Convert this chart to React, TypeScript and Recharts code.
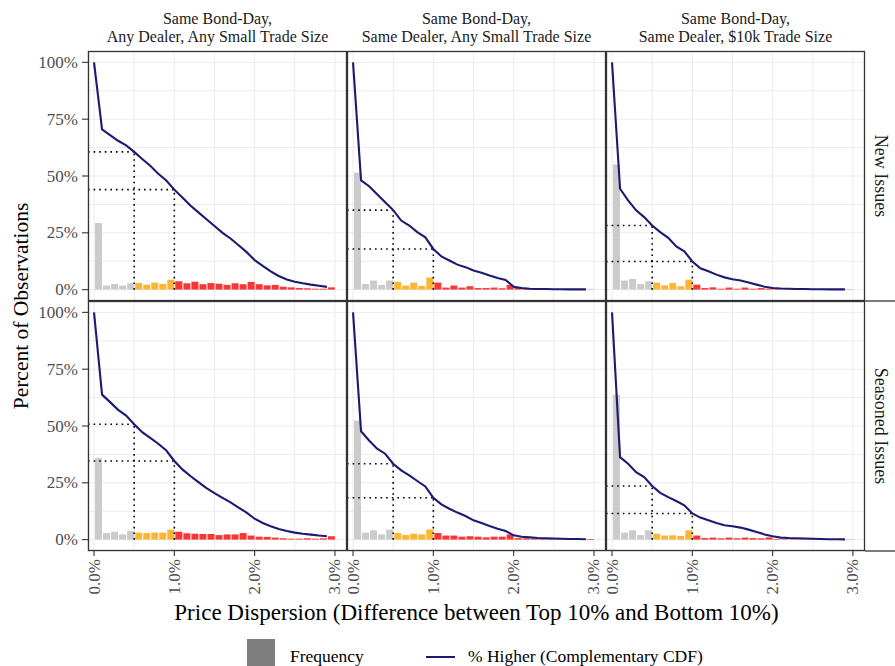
import React from 'react';
import { ComposedChart, Bar, Line, XAxis, YAxis, CartesianGrid, ReferenceLine, Cell } from 'recharts';

// Histogram bins (0.1% wide) and the points where the complementary CDF is evaluated
const binCenters = [0.05, 0.15, 0.25, 0.35, 0.45, 0.55, 0.65, 0.75, 0.85, 0.95, 1.05, 1.15, 1.25, 1.35, 1.45, 1.55, 1.65, 1.75, 1.85, 1.95, 2.05, 2.15, 2.25, 2.35, 2.45, 2.55, 2.65, 2.75, 2.85, 2.95];
const cdfPoints = [0, 0.1, 0.2, 0.3, 0.4, 0.5, 0.6, 0.7, 0.8, 0.9, 1.0, 1.1, 1.2, 1.3, 1.4, 1.5, 1.6, 1.7, 1.8, 1.9, 2.0, 2.1, 2.2, 2.3, 2.4, 2.5, 2.6, 2.7, 2.8, 2.9];

const xTicks = [0, 0.5, 1, 1.5, 2, 2.5, 3];
const xTickLabels = ['0.0%', '', '1.0%', '', '2.0%', '', '3.0%'];
const yTicks = [0, 12.5, 25, 37.5, 50, 62.5, 75, 87.5, 100];
const yTickLabels = ['0%', '', '25%', '', '50%', '', '75%', '', '100%'];

const columnTitles = [
  ['Same Bond-Day,', 'Any Dealer, Any Small Trade Size'],
  ['Same Bond-Day,', 'Same Dealer, Any Small Trade Size'],
  ['Same Bond-Day,', 'Same Dealer, $10k Trade Size'],
];
const rowTitles = ['New Issues', 'Seasoned Issues'];

// New issues
const freqNewAny = [29.3, 1.8, 2.5, 1.8, 2.8, 2.9, 2.2, 3.1, 2.5, 4.4, 3.7, 2.8, 3.5, 2.4, 2.9, 2.6, 2.1, 2.8, 2.4, 3.4, 2.4, 1.9, 2.1, 1.3, 1.0, 0.7, 0.6, 0.4, 0.4, 1.0];
const cdfNewAny = [100, 70.5, 68, 65.5, 63.5, 60.6, 57.5, 54.5, 51, 48, 44, 40.5, 37, 34, 31, 28, 25, 22.5, 19.5, 16.5, 13, 10.5, 8, 6, 4.5, 3.5, 2.8, 2.2, 1.7, 1.2];
const freqNewDealer = [51.5, 2.5, 4.0, 2.1, 4.0, 3.4, 1.8, 3.1, 1.6, 5.3, 3.1, 0.9, 1.8, 0.9, 1.5, 0.7, 0.7, 0.9, 0.6, 2.1, 0.9, 0.4, 0.3, 0.2, 0.2, 0.1, 0.1, 0.1, 0.1, 0.1];
const cdfNewDealer = [100, 48.1, 45.5, 42, 38.5, 35, 30.4, 28.2, 25.3, 23, 17.9, 14.6, 12.8, 11, 9.9, 8.4, 7.4, 6.2, 5.1, 4.3, 1.3, 0.7, 0.4, 0.3, 0.3, 0.2, 0.2, 0.1, 0.1, 0.1];
const freqNew10k = [55.1, 4.0, 4.7, 2.5, 3.7, 3.1, 1.9, 2.9, 1.5, 4.4, 2.2, 0.7, 1.0, 0.4, 0.9, 0.4, 0.9, 0.4, 0.7, 0.4, 0.2, 0.1, 0.1, 0.1, 0.1, 0.1, 0.1, 0.1, 0.1, 0.1];
const cdfNew10k = [100, 44.4, 39.3, 34.9, 31.9, 28.2, 25.3, 22.8, 19, 16.9, 12.4, 9.4, 8.1, 6.6, 5.4, 4.6, 4.0, 3.1, 2.2, 1.3, 0.7, 0.5, 0.4, 0.3, 0.3, 0.2, 0.2, 0.1, 0.1, 0.1];

// Seasoned issues
const freqSeasAny = [36.0, 2.9, 3.5, 2.3, 3.8, 3.1, 2.9, 3.1, 3.1, 4.4, 3.5, 2.8, 2.6, 2.5, 2.5, 2.0, 2.3, 2.3, 2.9, 1.8, 1.3, 1.2, 0.9, 0.6, 0.4, 0.4, 0.6, 0.4, 0.6, 1.5];
const cdfSeasAny = [100, 63.8, 60.5, 57.1, 54.6, 50.8, 47.3, 44.8, 42.2, 39.2, 34.6, 30.9, 28, 25.3, 22.7, 20.5, 18.4, 16.4, 14.1, 11.9, 9.2, 7.3, 5.9, 4.7, 3.8, 3.1, 2.6, 2.2, 1.8, 1.5];
const freqSeasDealer = [52.4, 3.1, 4.1, 2.3, 4.4, 2.9, 2.0, 2.6, 2.3, 4.5, 2.9, 1.8, 1.8, 1.3, 1.5, 1.3, 1.0, 1.3, 1.3, 2.3, 0.7, 0.6, 0.4, 0.3, 0.3, 0.2, 0.2, 0.2, 0.2, 0.3];
const cdfSeasDealer = [100, 47.7, 43.6, 40, 37.8, 33.4, 30.5, 28.3, 25.8, 23.4, 18.4, 15.5, 13.6, 11.9, 10.4, 8.5, 7.3, 6.0, 4.8, 3.8, 1.9, 1.3, 1.0, 0.7, 0.6, 0.5, 0.4, 0.3, 0.3, 0.2];
const freqSeas10k = [63.8, 3.1, 4.1, 2.0, 4.1, 2.6, 1.8, 1.9, 1.6, 4.1, 1.8, 0.7, 0.9, 0.6, 0.9, 0.6, 0.9, 0.7, 0.6, 1.0, 0.3, 0.2, 0.2, 0.2, 0.2, 0.2, 0.1, 0.1, 0.1, 0.1];
const cdfSeas10k = [100, 36.3, 33.4, 29.7, 27.5, 23.6, 20.6, 18.7, 17.0, 15.1, 11.5, 9.7, 8.5, 7.3, 6.3, 5.9, 5.3, 4.4, 3.4, 2.3, 1.5, 0.9, 0.7, 0.6, 0.5, 0.4, 0.3, 0.2, 0.2, 0.1];

const panels = [
  [
    { freq: freqNewAny, cdf: cdfNewAny },
    { freq: freqNewDealer, cdf: cdfNewDealer },
    { freq: freqNew10k, cdf: cdfNew10k },
  ],
  [
    { freq: freqSeasAny, cdf: cdfSeasAny },
    { freq: freqSeasDealer, cdf: cdfSeasDealer },
    { freq: freqSeas10k, cdf: cdfSeas10k },
  ],
];

// Layout
const FONT = "'Liberation Serif', 'Times New Roman', serif";
const LEFT = 88;
const TOP = 51;
const PLOT_W = 259;
const PLOT_H = 250;
const XAXIS_H = 60;
const PAD = 14; // room for rotated tick labels that sit on a panel's left edge
const X_MIN = -0.075;
const X_MAX = 3.15;
const Y_MIN = -5;
const Y_MAX = 105;

const GRAY = '#CBCBCB';
const ORANGE = '#FDB634';
const RED = '#F93636';
const NAVY = '#1B1B72';
const GRID = '#EBEBEB';
const BORDER = '#333333';
const TICK_TEXT = '#4D4D4D';

const binFill = (x: number) => (x < 0.5 ? GRAY : x < 1.0 ? ORANGE : RED);

const YTick = (props: any) => {
  const { x, y, payload } = props;
  const label = yTickLabels[yTicks.indexOf(payload.value)];
  if (!label) return <g />;
  return (
    <g>
      <line x1={x - 6} x2={x} y1={y} y2={y} stroke={BORDER} strokeWidth={1.1} />
      <text x={x - 10} y={y} textAnchor="end" dominantBaseline="central" fill={TICK_TEXT} fontSize={17} fontFamily={FONT}>
        {label}
      </text>
    </g>
  );
};

const XTick = (props: any) => {
  const { x, y, payload } = props;
  const label = xTickLabels[xTicks.indexOf(payload.value)];
  if (!label) return <g />;
  return (
    <g>
      <line x1={x} x2={x} y1={y} y2={y + 5} stroke={BORDER} strokeWidth={1.1} />
      <text
        x={x}
        y={y + 8}
        transform={`rotate(-90, ${x}, ${y + 8})`}
        textAnchor="end"
        dominantBaseline="central"
        fill={TICK_TEXT}
        fontSize={17}
        fontFamily={FONT}
      >
        {label}
      </text>
    </g>
  );
};

function Panel({ row, col }: { row: number; col: number }) {
  const { freq, cdf } = panels[row][col];
  const bins = binCenters.map((x, i) => ({ x, freq: freq[i] }));
  const curve = cdfPoints.map((x, i) => ({ x, cdf: cdf[i] }));
  const showY = col === 0;
  const showX = row === 1;
  const padLeft = showY ? 0 : PAD;
  const width = (showY ? LEFT : PAD) + PLOT_W;
  const height = showX ? PLOT_H + XAXIS_H : PLOT_H;
  const left = showY ? 0 : LEFT + col * PLOT_W - PAD;
  const top = TOP + row * PLOT_H;
  const at05 = cdf[cdfPoints.indexOf(0.5)];
  const at10 = cdf[cdfPoints.indexOf(1.0)];
  const dotted = { stroke: '#000', strokeWidth: 1.6, strokeDasharray: '1.6 4' };

  return (
    <div style={{ position: 'absolute', left, top, width, height }}>
      <ComposedChart width={width} height={height} data={bins} margin={{ top: 0, right: 0, bottom: 0, left: padLeft }}>
        <CartesianGrid stroke={GRID} strokeWidth={1} />
        <XAxis
          dataKey="x"
          type="number"
          domain={[X_MIN, X_MAX]}
          allowDataOverflow
          ticks={xTicks}
          interval={0}
          hide={!showX}
          height={XAXIS_H}
          axisLine={false}
          tickLine={false}
          tickSize={0}
          tickMargin={0}
          tick={<XTick />}
        />
        {/* separate x axis for the curve so the bin spacing alone sets the bar band */}
        <XAxis xAxisId="curve" dataKey="x" type="number" domain={[X_MIN, X_MAX]} allowDataOverflow hide />
        <YAxis
          type="number"
          domain={[Y_MIN, Y_MAX]}
          allowDataOverflow
          ticks={yTicks}
          interval={0}
          hide={!showY}
          width={LEFT}
          axisLine={false}
          tickLine={false}
          tickSize={0}
          tickMargin={0}
          tick={<YTick />}
        />
        <Bar dataKey="freq" barSize={7} isAnimationActive={false}>
          {bins.map((d, i) => (
            <Cell key={i} fill={binFill(d.x)} />
          ))}
        </Bar>
        <ReferenceLine segment={[{ x: 0.5, y: 0 }, { x: 0.5, y: at05 }]} {...dotted} />
        <ReferenceLine segment={[{ x: X_MIN, y: at05 }, { x: 0.5, y: at05 }]} {...dotted} />
        <ReferenceLine segment={[{ x: 1.0, y: 0 }, { x: 1.0, y: at10 }]} {...dotted} />
        <ReferenceLine segment={[{ x: X_MIN, y: at10 }, { x: 1.0, y: at10 }]} {...dotted} />
        <Line
          xAxisId="curve"
          data={curve}
          dataKey="cdf"
          type="linear"
          stroke={NAVY}
          strokeWidth={2.1}
          dot={false}
          isAnimationActive={false}
        />
      </ComposedChart>
    </div>
  );
}

function Decorations() {
  const right = LEFT + 3 * PLOT_W;
  const bottom = TOP + 2 * PLOT_H;
  const titleY = 306;
  return (
    <svg width={895} height={666} style={{ position: 'absolute', left: 0, top: 0, pointerEvents: 'none' }}>
      {[0, 1].map((r) =>
        [0, 1, 2].map((c) => (
          <rect
            key={`b${r}${c}`}
            x={LEFT + c * PLOT_W + 0.5}
            y={TOP + r * PLOT_H + 0.5}
            width={PLOT_W - 1}
            height={PLOT_H - 1}
            fill="none"
            stroke={BORDER}
            strokeWidth={1.3}
          />
        ))
      )}
      {/* row strip separators */}
      <line x1={right} x2={895} y1={TOP + PLOT_H} y2={TOP + PLOT_H} stroke={BORDER} strokeWidth={1.3} />
      <line x1={right} x2={895} y1={bottom} y2={bottom} stroke={BORDER} strokeWidth={1.3} />
      {columnTitles.map((lines, c) => (
        <text key={`ct${c}`} textAnchor="middle" fontFamily={FONT} fontSize={16} fill="#1A1A1A">
          <tspan x={LEFT + c * PLOT_W + PLOT_W / 2} y={24}>{lines[0]}</tspan>
          <tspan x={LEFT + c * PLOT_W + PLOT_W / 2} y={42}>{lines[1]}</tspan>
        </text>
      ))}
      {rowTitles.map((t, r) => {
        const cx = 881;
        const cy = TOP + r * PLOT_H + PLOT_H / 2;
        return (
          <text key={`rt${r}`} x={cx} y={cy} transform={`rotate(90, ${cx}, ${cy})`} textAnchor="middle" dominantBaseline="central" fontFamily={FONT} fontSize={18} fill="#1A1A1A">
            {t}
          </text>
        );
      })}
      <text x={21} y={titleY} transform={`rotate(-90, 21, ${titleY})`} textAnchor="middle" dominantBaseline="central" fontFamily={FONT} fontSize={21.5} fill="#000">
        Percent of Observations
      </text>
      <text x={LEFT + 1.5 * PLOT_W} y={620} textAnchor="middle" fontFamily={FONT} fontSize={23} fill="#000">
        Price Dispersion (Difference between Top 10% and Bottom 10%)
      </text>
      {/* legend */}
      <rect x={247} y={639} width={28} height={28} fill="#7F7F7F" />
      <text x={290} y={662} fontFamily={FONT} fontSize={17.5} fill="#000">Frequency</text>
      <line x1={426} x2={455} y1={657} y2={657} stroke={NAVY} strokeWidth={2} />
      <text x={468} y={662} fontFamily={FONT} fontSize={17.5} fill="#000">% Higher (Complementary CDF)</text>
    </svg>
  );
}

export default function App() {
  return (
    <div style={{ position: 'absolute', left: 0, top: 0, width: 895, height: 666, background: '#fff', overflow: 'hidden' }}>
      {[0, 1].map((r) => [0, 1, 2].map((c) => <Panel key={`${r}-${c}`} row={r} col={c} />))}
      <Decorations />
    </div>
  );
}
